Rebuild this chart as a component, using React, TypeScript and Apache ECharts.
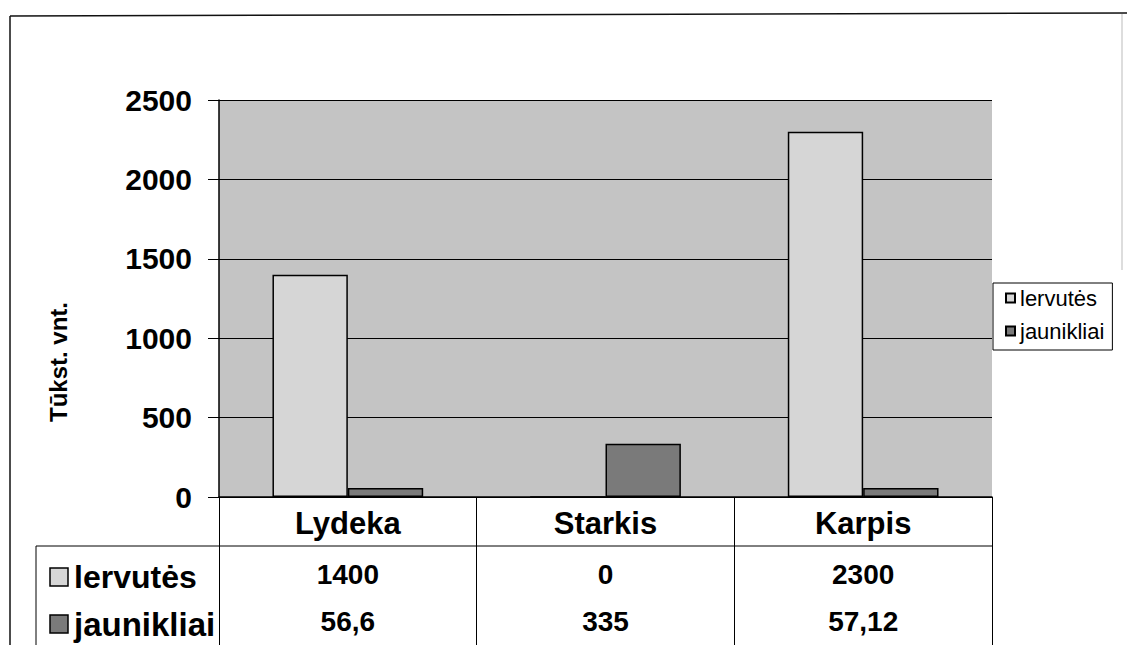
import React, { useEffect, useRef } from "react";
import * as echarts from "echarts";

const categories = ["Lydeka", "Starkis", "Karpis"];
const seriesNames = ["lervutės", "jaunikliai"];
const lervutes = [1400, 0, 2300];
const jaunikliai = [56.6, 335, 57.12];
const yTicks = { min: 0, max: 2500, interval: 500 };

const fmt = (v: number) => String(v).replace(".", ",");

const FONT = "'Liberation Sans', Arial, sans-serif";
const C_IERV = "#d6d6d6";
const C_JAUN = "#7a7a7a";
const C_BG = "#c4c4c4";

export default function App() {
  const ref = useRef<HTMLDivElement>(null);
  useEffect(() => {
    document.body.style.margin = "0";
    const chart = echarts.init(ref.current!, undefined, { renderer: "svg" });
    const gridLeft = 219;
    const gridRight = 992;
    const gridTop = 100;
    const gridBottom = 497;
    chart.setOption({
      animation: false,
      backgroundColor: "#ffffff",
      textStyle: { fontFamily: FONT },
      grid: {
        left: gridLeft,
        right: 1127 - gridRight,
        top: gridTop,
        bottom: 645 - gridBottom,
        show: true,
        backgroundColor: C_BG,
        borderWidth: 0,
      },
      legend: {
        orient: "vertical",
        left: 993,
        top: 283,
        icon: "rect",
        itemWidth: 9,
        itemHeight: 9,
        itemGap: 11,
        padding: [4, 8, 8, 12],
        borderColor: "#000",
        borderWidth: 1,
        textStyle: { fontFamily: FONT, fontSize: 22, color: "#000" },
        data: seriesNames,
      },
      xAxis: [
        {
          type: "category",
          data: categories,
          axisLine: { show: true, lineStyle: { color: "#000", width: 1.5 } },
          axisTick: { show: true, alignWithLabel: false, length: 148, lineStyle: { color: "#000", width: 1 } },
          axisLabel: { fontFamily: FONT, fontSize: 31, fontWeight: "bold", color: "#000", margin: 11 },
          splitLine: { show: false },
        },
        {
          type: "category",
          data: lervutes.map(fmt),
          position: "bottom",
          axisLine: { show: false },
          axisTick: { show: false },
          axisLabel: { fontFamily: FONT, fontSize: 28, fontWeight: "bold", color: "#000", margin: 63 },
        },
        {
          type: "category",
          data: jaunikliai.map(fmt),
          position: "bottom",
          axisLine: { show: false },
          axisTick: { show: false },
          axisLabel: { fontFamily: FONT, fontSize: 28, fontWeight: "bold", color: "#000", margin: 110 },
        },
      ],
      yAxis: {
        type: "value",
        min: yTicks.min,
        max: yTicks.max,
        interval: yTicks.interval,
        axisLine: { show: true, lineStyle: { color: "#000", width: 1.5 } },
        axisTick: { show: true, length: 11, lineStyle: { color: "#000" } },
        axisLabel: {
          fontFamily: FONT,
          fontSize: 30,
          fontWeight: "bold",
          color: "#000",
          margin: 27,
          formatter: (v: number) => String(v),
        },
        splitLine: { show: true, lineStyle: { color: "#000", width: 1 } },
      },
      series: [
        {
          name: seriesNames[0],
          type: "bar",
          data: lervutes,
          barGap: "0%",
          barCategoryGap: "41.5%",
          itemStyle: { color: C_IERV, borderColor: "#000", borderWidth: 1.5 },
        },
        {
          name: seriesNames[1],
          type: "bar",
          data: jaunikliai,
          itemStyle: { color: C_JAUN, borderColor: "#000", borderWidth: 1.5 },
        },
      ],
      graphic: [
        { type: "line", shape: { x1: 36, y1: 546, x2: gridRight, y2: 546 }, style: { stroke: "#000", lineWidth: 1 } },
        { type: "line", shape: { x1: 36, y1: 546, x2: 36, y2: 645 }, style: { stroke: "#000", lineWidth: 1 } },
        { type: "rect", shape: { x: 50, y: 568, width: 18, height: 18 }, style: { fill: C_IERV, stroke: "#000", lineWidth: 1.5 } },
        { type: "rect", shape: { x: 50, y: 615, width: 18, height: 18 }, style: { fill: C_JAUN, stroke: "#000", lineWidth: 1.5 } },
        {
          type: "text",
          x: 74,
          y: 577,
          style: { text: seriesNames[0], fontFamily: FONT, fontSize: 32, fontWeight: "bold", fill: "#000", textAlign: "left", textVerticalAlign: "middle" },
        },
        {
          type: "text",
          x: 74,
          y: 624,
          style: { text: seriesNames[1], fontFamily: FONT, fontSize: 33, fontWeight: "bold", fill: "#000", textAlign: "left", textVerticalAlign: "middle" },
        },
        {
          type: "text",
          x: 58,
          y: 362,
          rotation: Math.PI / 2,
          style: { text: "Tūkst. vnt.", fontFamily: FONT, fontSize: 24, fontWeight: "bold", fill: "#000", textAlign: "center", textVerticalAlign: "middle" },
        },
        { type: "line", shape: { x1: 10, y1: 16, x2: 1127, y2: 13 }, style: { stroke: "#111", lineWidth: 1.5 } },
        { type: "line", shape: { x1: 10, y1: 16, x2: 10, y2: 645 }, style: { stroke: "#111", lineWidth: 1.5 } },
        { type: "line", shape: { x1: 1122, y1: 14, x2: 1122, y2: 270 }, style: { stroke: "#bbb", lineWidth: 1 } },
      ],
    });
    return () => chart.dispose();
  }, []);
  return <div ref={ref} style={{ width: 1127, height: 645 }} />;
}
